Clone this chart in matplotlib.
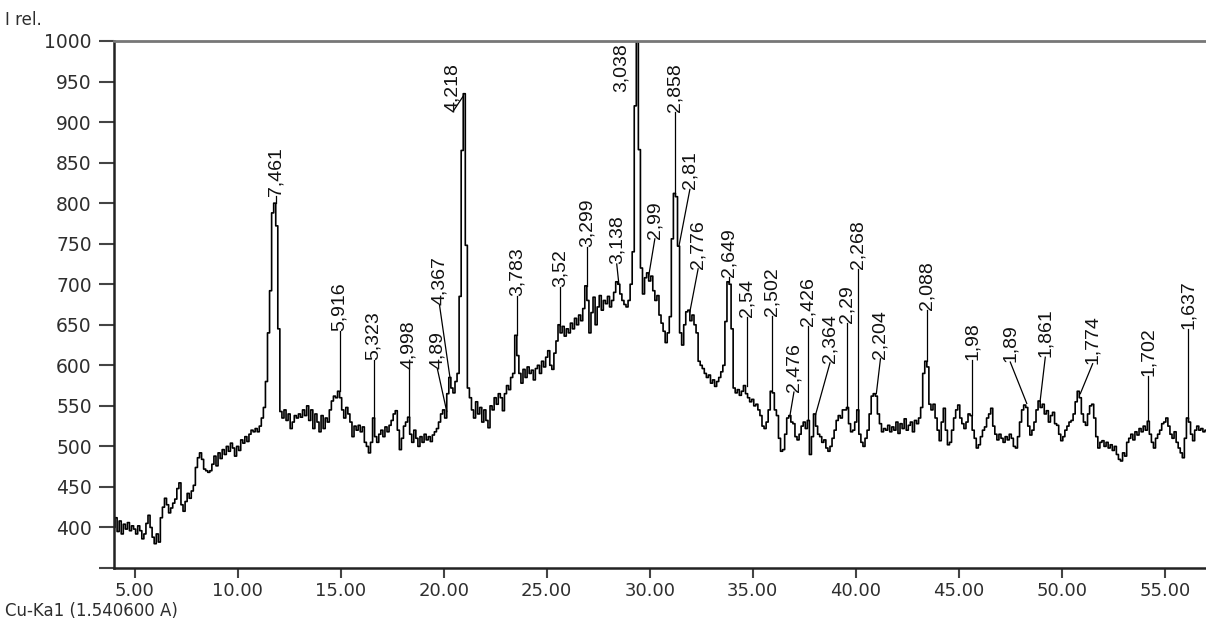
import numpy as np
import matplotlib
matplotlib.use('Agg')
import matplotlib.pyplot as plt
from matplotlib import font_manager

# XRD pattern, 2-theta from 4.0 to 57.0 deg, step 0.1 (one row per degree)
start_2theta = 4.0
step_2theta = 0.1
intensity = [
    400, 412, 395, 408, 392, 404, 398, 406, 396, 402,   # 4
    398, 392, 402, 396, 386, 392, 405, 415, 400, 388,   # 5
    380, 392, 382, 412, 425, 436, 428, 418, 424, 430,   # 6
    435, 448, 455, 428, 420, 432, 442, 436, 445, 452,   # 7
    474, 486, 492, 484, 472, 470, 468, 470, 478, 488,   # 8
    476, 492, 485, 496, 490, 500, 494, 504, 498, 488,   # 9
    500, 495, 508, 504, 512, 506, 515, 520, 518, 522,   # 10
    518, 525, 535, 548, 580, 640, 692, 788, 800, 772,   # 11
    645, 543, 535, 545, 532, 540, 522, 530, 538, 535,   # 12
    540, 536, 545, 538, 550, 532, 545, 522, 540, 530,   # 13
    518, 538, 522, 535, 530, 545, 556, 562, 560, 568,   # 14
    560, 545, 535, 548, 540, 530, 512, 525, 520, 526,   # 15
    518, 524, 505, 500, 492, 505, 535, 512, 505, 515,   # 16
    520, 512, 524, 518, 526, 532, 540, 544, 520, 496,   # 17
    510, 525, 530, 536, 515, 505, 520, 510, 500, 512,   # 18
    505, 515, 508, 512, 506, 514, 518, 522, 530, 540,   # 19
    545, 535, 565, 585, 572, 566, 580, 590, 685, 865,   # 20
    935, 748, 572, 560, 545, 535, 555, 540, 548, 530,   # 21
    545, 532, 523, 550, 545, 560, 552, 565, 560, 544,   # 22
    565, 575, 570, 585, 590, 637, 612, 590, 578, 595,   # 23
    585, 598, 590, 594, 582, 596, 600, 590, 605, 598,   # 24
    610, 618, 600, 595, 615, 630, 650, 640, 648, 636,   # 25
    645, 640, 652, 645, 658, 650, 662, 655, 670, 698,   # 26
    680, 640, 665, 684, 650, 672, 686, 668, 680, 676,   # 27
    685, 672, 680, 690, 703, 700, 688, 680, 675, 672,   # 28
    680, 700, 740, 920, 1000, 866, 720, 688, 708, 714,  # 29
    704, 710, 692, 680, 686, 662, 652, 642, 628, 640,   # 30
    660, 756, 812, 808, 747, 640, 625, 650, 666, 668,   # 31
    655, 662, 650, 640, 605, 600, 596, 590, 585, 588,   # 32
    578, 582, 574, 580, 585, 592, 600, 654, 703, 700,   # 33
    645, 572, 566, 570, 563, 568, 575, 565, 560, 555,   # 34
    558, 550, 552, 545, 538, 525, 522, 530, 545, 568,   # 35
    566, 545, 538, 510, 494, 496, 515, 535, 538, 530,   # 36
    528, 512, 508, 515, 525, 530, 522, 532, 490, 512,   # 37
    540, 525, 515, 512, 505, 508, 498, 494, 500, 510,   # 38
    520, 532, 538, 535, 545, 545, 548, 528, 518, 520,   # 39
    530, 545, 515, 505, 500, 510, 520, 540, 562, 565,   # 40
    562, 540, 528, 518, 522, 520, 526, 518, 524, 520,   # 41
    530, 516, 528, 522, 534, 520, 526, 530, 518, 532,   # 42
    528, 535, 548, 590, 605, 598, 552, 545, 552, 535,   # 43
    520, 507, 530, 547, 520, 502, 505, 520, 535, 545,   # 44
    551, 535, 528, 522, 530, 540, 538, 520, 510, 498,   # 45
    502, 512, 520, 524, 535, 540, 547, 525, 515, 508,   # 46
    515, 510, 505, 512, 508, 515, 510, 500, 498, 512,   # 47
    530, 545, 551, 548, 525, 514, 520, 530, 545, 556,   # 48
    548, 552, 540, 544, 530, 538, 542, 528, 526, 515,   # 49
    507, 512, 520, 525, 530, 532, 540, 555, 568, 560,   # 50
    540, 530, 526, 540, 550, 552, 535, 512, 498, 505,   # 51
    507, 500, 505, 498, 502, 495, 500, 490, 484, 482,   # 52
    492, 488, 505, 510, 515, 508, 518, 514, 522, 518,   # 53
    525, 520, 531, 515, 505, 498, 510, 515, 520, 528,   # 54
    530, 535, 525, 515, 510, 518, 505, 498, 492, 486,   # 55
    510, 535, 530, 515, 507, 520, 525, 520, 522, 518,   # 56
    520,                                                # 57
]

# d-spacing labels: text position (2theta, intensity) and leader end at the peak
peak_labels = ['7,461', '5,916', '5,323', '4,998', '4,89', '4,367', '4,218',
               '3,783', '3,52', '3,299', '3,138', '3,038', '2,99', '2,858',
               '2,81', '2,776', '2,649', '2,54', '2,502', '2,476', '2,426',
               '2,364', '2,29', '2,268', '2,204', '2,088', '1,98', '1,89',
               '1,861', '1,774', '1,702', '1,637']
label_x = [11.85, 14.95, 16.6, 18.3, 19.7, 19.8, 20.45,
           23.55, 25.65, 26.95, 28.4, 28.6, 30.25, 31.25,
           31.95, 32.35, 33.85, 34.7, 35.95, 37.0, 37.7,
           38.75, 39.6, 40.1, 41.2, 43.45, 45.65, 47.5,
           49.2, 51.5, 54.2, 56.15]
label_y = [809, 642, 606, 596, 595, 674, 913,
           686, 697, 746, 725, 937, 756, 913,
           817, 719, 709, 660, 661, 567, 648,
           603, 652, 719, 608, 668, 606, 604,
           610, 602, 587, 645]
peak_x = [11.85, 14.95, 16.6, 18.3, 20.15, 20.3, 20.95,
          23.55, 25.65, 26.95, 28.5, 28.6, 29.95, 31.25,
          31.42, 31.95, 33.85, 34.7, 35.95, 36.8, 37.7,
          38.05, 39.6, 40.1, 41.0, 43.45, 45.65, 48.3,
          48.95, 50.9, 54.2, 56.15]
peak_y = [800, 568, 535, 536, 543, 586, 932,
          637, 649, 698, 701, 937, 710, 813,
          747, 666, 703, 575, 568, 537, 532,
          539, 547, 544, 565, 605, 539, 553,
          556, 565, 531, 535]

y_ticks = [350, 400, 450, 500, 550, 600, 650, 700, 750, 800, 850, 900, 950, 1000]
x_ticks = [5, 10, 15, 20, 25, 30, 35, 40, 45, 50, 55]

have = {f.name for f in font_manager.fontManager.ttflist}
label_font = 'Liberation Sans Narrow' if 'Liberation Sans Narrow' in have else 'Liberation Sans'
label_size = 16.5 if label_font == 'Liberation Sans Narrow' else 14

two_theta = start_2theta + step_2theta * np.arange(len(intensity))

fig = plt.figure(figsize=(12.06, 6.21), dpi=100)
ax = fig.add_axes([114 / 1206, 1 - 568 / 621, 1 - 114 / 1206, (568 - 41) / 621])

ax.plot(two_theta, intensity, color='black', lw=1.2, drawstyle='steps-mid')

for txt, tx, ty, px, py in zip(peak_labels, label_x, label_y, peak_x, peak_y):
    ax.plot([tx, px], [ty, py], color='black', lw=0.9)
    ax.text(tx, ty, txt, rotation=90, ha='center', va='bottom',
            family=label_font, fontsize=label_size, color='#111111')

ax.set_xlim(4.0, 57.0)
ax.set_ylim(350, 1000)
ax.set_xticks(x_ticks)
ax.set_xticklabels(['%.2f' % v for v in x_ticks])
ax.set_yticks(y_ticks)
ax.set_yticklabels([''] + [str(v) for v in y_ticks[1:]])

ax.spines['right'].set_visible(False)
ax.spines['top'].set_color('#777777')
ax.spines['top'].set_linewidth(2)
for s in ['left', 'bottom']:
    ax.spines[s].set_color('#222222')
    ax.spines[s].set_linewidth(1.8)
ax.tick_params(axis='y', length=11, width=1.5, color='#444444', pad=5,
               labelsize=13.5, labelcolor='#2e2e2e')
ax.tick_params(axis='x', length=7, width=1.5, color='#444444', pad=3,
               labelsize=13, labelcolor='#2e2e2e')
for lab in ax.get_xticklabels() + ax.get_yticklabels():
    lab.set_family('DejaVu Sans')

fig.text(5 / 1206, 1 - 20 / 621, 'I rel.', fontsize=12, color='#2e2e2e',
         family='DejaVu Sans', va='center', ha='left')
fig.text(5 / 1206, 1 - 611 / 621, 'Cu-Ka1 (1.540600 A)', fontsize=12,
         color='#2e2e2e', family='DejaVu Sans', va='center', ha='left')

fig.savefig('out.png', dpi=100)
